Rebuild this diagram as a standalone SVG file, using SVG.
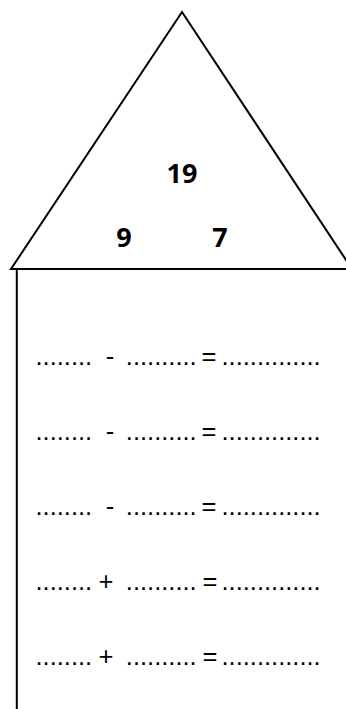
<svg xmlns="http://www.w3.org/2000/svg" width="346" height="709" viewBox="0 0 346 709">
<style>
.ln{fill:none;stroke:#000;stroke-width:2;stroke-linejoin:miter}
.num{font-family:"Open Sans","Liberation Sans",sans-serif;font-weight:700;font-size:27px;fill:#000;text-anchor:middle}
.eq{font-family:"Liberation Sans",Arial,sans-serif;font-size:25.5px;fill:#000}
.sym{text-anchor:middle}
</style>
<rect width="346" height="709" fill="#fff"/>
<g id="roof">
<polygon class="ln" points="182,12 11,269 352,269"/>
</g>
<g id="wall">
<line class="ln" x1="16.8" y1="269" x2="16.8" y2="709" stroke-width="2.4"/>
</g>
<g id="numbers">
<text class="num" x="182" y="183">19</text>
<text class="num" x="124" y="246.5">9</text>
<text class="num" x="220" y="246.5">7</text>
</g>
<g id="equations" class="eq">
<g id="row1">
<text x="35.5" y="364.5">........</text><text class="sym" x="110" y="364.5">-</text><text x="125.8" y="364.5">..........</text><text class="sym" x="209" y="364.5">=</text><text x="221.5" y="364.5">..............</text>
</g>
<g id="row2">
<text x="35.5" y="439.5">........</text><text class="sym" x="110" y="439.5">-</text><text x="125.8" y="439.5">..........</text><text class="sym" x="209" y="439.5">=</text><text x="221.5" y="439.5">..............</text>
</g>
<g id="row3">
<text x="35.5" y="514.5">........</text><text class="sym" x="110" y="514.5">-</text><text x="125.8" y="514.5">..........</text><text class="sym" x="209" y="514.5">=</text><text x="221.5" y="514.5">..............</text>
</g>
<g id="row4">
<text x="35.5" y="589.5">........</text><text class="sym" x="106" y="589.5">+</text><text x="125.8" y="589.5">..........</text><text class="sym" x="210" y="589.5">=</text><text x="221.5" y="589.5">..............</text>
</g>
<g id="row5">
<text x="35.5" y="664.5">........</text><text class="sym" x="106" y="664.5">+</text><text x="125.8" y="664.5">..........</text><text class="sym" x="210" y="664.5">=</text><text x="221.5" y="664.5">..............</text>
</g>
</g>
</svg>
